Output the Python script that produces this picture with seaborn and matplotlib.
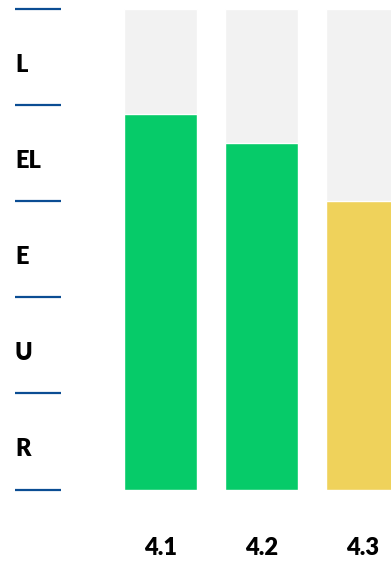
import matplotlib
matplotlib.use("Agg")
import matplotlib.pyplot as plt
import matplotlib.transforms as mtransforms
import seaborn as sns
import pandas as pd

# Data
items = ["4.1", "4.2", "4.3"]
scores = [3.9, 3.6, 3.0]
bar_colors = ["#06cb69", "#06cb69", "#efd25b"]
levels = ["R", "U", "E", "EL", "L"]  # bottom to top
scale_max = 5

sns.set_theme(style="white")
plt.rcParams["font.family"] = ["Lato", "DejaVu Sans"]

W, H = 391, 561
fig = plt.figure(figsize=(W / 100, H / 100), dpi=100)
ax_bottom_px, ax_top_px = 489.5, 8.5
ax = fig.add_axes([0, (H - ax_bottom_px) / H, 1, (ax_bottom_px - ax_top_px) / H])

df = pd.DataFrame({"item": items, "score": scores, "full": [scale_max] * len(items)})

# Grey track behind each bar, then the score bar itself
sns.barplot(data=df, x="item", y="full", color="#f2f2f2", width=0.723,
            saturation=1, ax=ax)
sns.barplot(data=df, x="item", y="score", hue="item", palette=bar_colors,
            width=0.723, saturation=1, legend=False, ax=ax)

ax.set_xlim(-160.5 / 101, (W - 160.5) / 101)
ax.set_ylim(0, scale_max)
ax.set_xlabel("")
ax.set_ylabel("")
ax.set_yticks([])
ax.tick_params(axis="x", length=0, pad=34, labelsize=17)
for lab in ax.get_xticklabels():
    lab.set_fontweight("heavy")
    lab.set_color("#000000")
for s in ax.spines.values():
    s.set_visible(False)

# Level separators and level names in the left margin
trans = ax.get_yaxis_transform()
for i in range(scale_max + 1):
    ax.plot([15 / W, 61 / W], [i, i], transform=trans, color="#0b4d93",
            lw=1.6, clip_on=False, solid_capstyle="butt")
label_trans = mtransforms.offset_copy(trans, fig=fig, x=0, y=-8, units="dots")
for i, name in enumerate(levels):
    ax.text(15 / W, i + 0.5, name, transform=label_trans, ha="left", va="center",
            fontsize=17, fontweight="heavy", color="#000000")

fig.savefig("out.png", dpi=100)
